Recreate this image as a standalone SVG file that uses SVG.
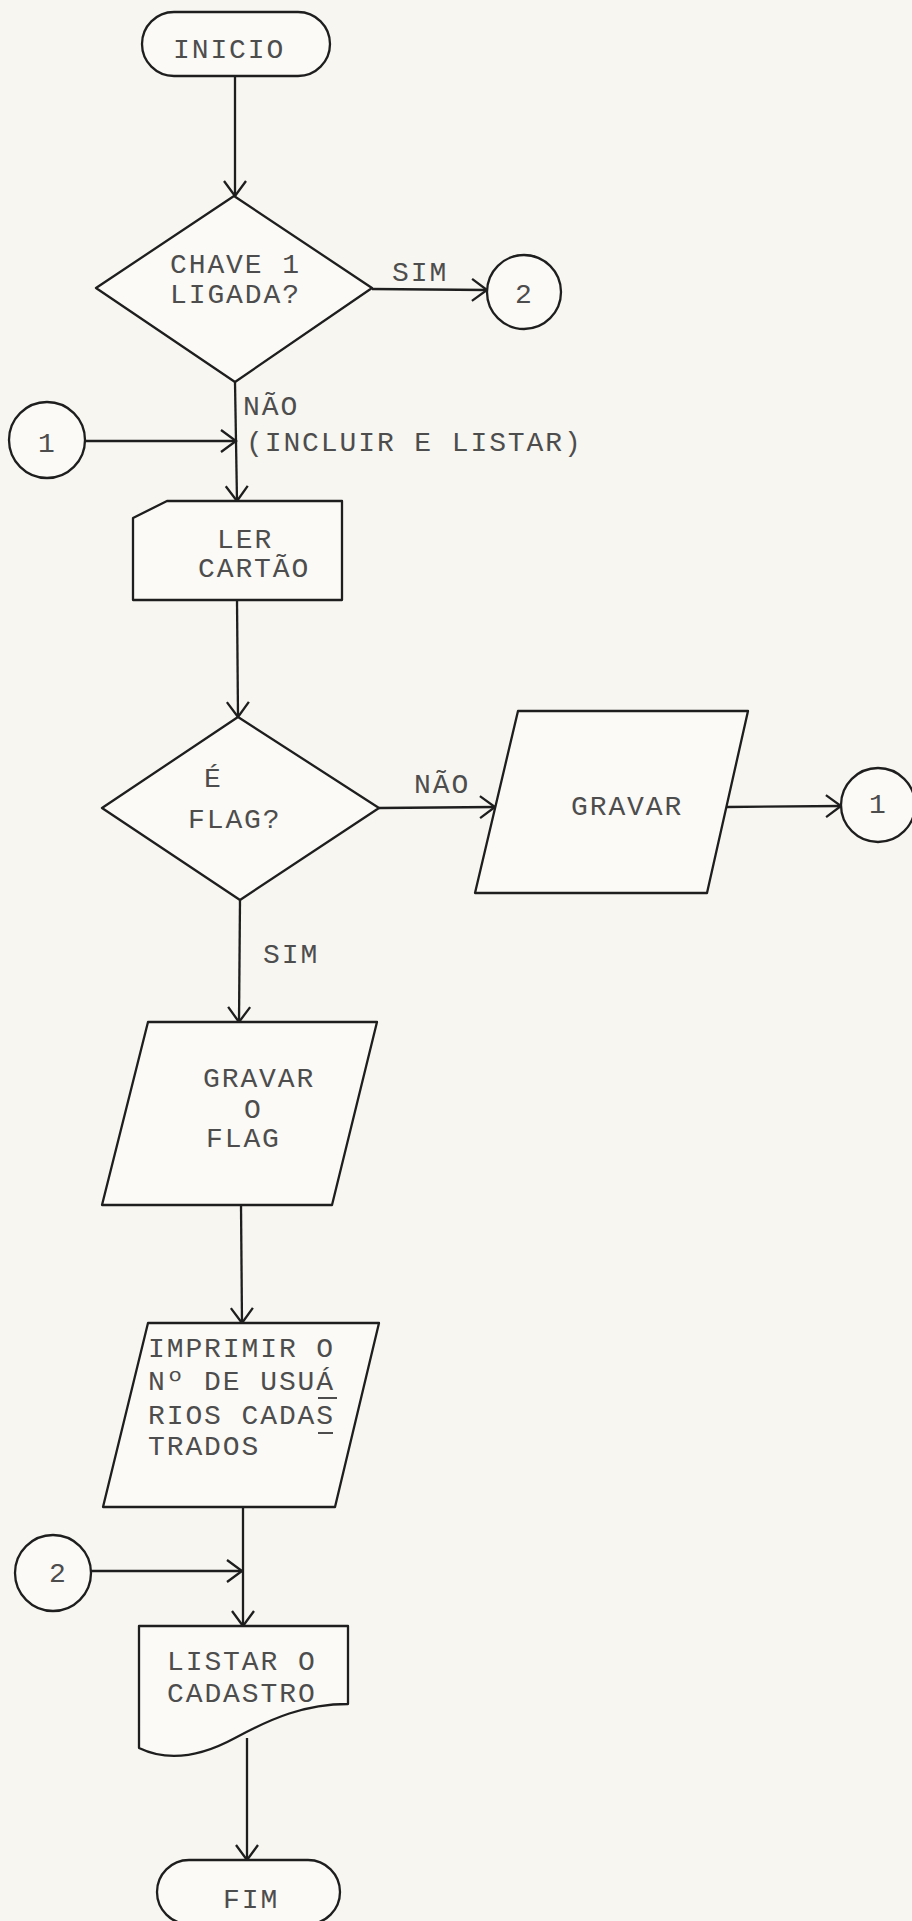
<svg xmlns="http://www.w3.org/2000/svg" width="912" height="1921" viewBox="0 0 912 1921">
<style>
.n{fill:#fbfaf6;stroke:#1e1e1e;stroke-width:2.3;stroke-linejoin:round}
.t{font-family:"Liberation Mono","DejaVu Sans Mono",monospace;font-size:28px;letter-spacing:1.9px;fill:#4d4d4d}
.c{stroke:#1e1e1e;stroke-width:2.3;fill:none}
</style>
<defs>
<marker id="arr" markerUnits="userSpaceOnUse" markerWidth="40" markerHeight="40" refX="0" refY="0" viewBox="-20 -20 40 40" orient="auto" overflow="visible">
<path d="M-15,-11 L0,0 L-15,11" fill="none" stroke="#1e1e1e" stroke-width="2.3"/>
</marker>
</defs>
<rect x="0" y="0" width="912" height="1921" fill="#f7f6f1"/>
<g id="connectors">
<line class="c" x1="235" y1="76" x2="235" y2="196" marker-end="url(#arr)"/>
<line class="c" x1="372" y1="289" x2="487" y2="290" marker-end="url(#arr)"/>
<line class="c" x1="235" y1="382" x2="237" y2="501" marker-end="url(#arr)"/>
<line class="c" x1="85" y1="441" x2="236" y2="441" marker-end="url(#arr)"/>
<line class="c" x1="237" y1="600" x2="238" y2="717" marker-end="url(#arr)"/>
<line class="c" x1="379" y1="808" x2="495" y2="807" marker-end="url(#arr)"/>
<line class="c" x1="727" y1="807" x2="841" y2="806" marker-end="url(#arr)"/>
<line class="c" x1="240" y1="900" x2="239" y2="1022" marker-end="url(#arr)"/>
<line class="c" x1="241" y1="1205" x2="242" y2="1323" marker-end="url(#arr)"/>
<line class="c" x1="243" y1="1507" x2="243" y2="1626" marker-end="url(#arr)"/>
<line class="c" x1="91" y1="1571" x2="242" y2="1571" marker-end="url(#arr)"/>
<line class="c" x1="247" y1="1738" x2="247" y2="1860" marker-end="url(#arr)"/>
</g>
<g id="inicio">
<rect class="n" x="142" y="12" width="188" height="64" rx="32"/>
<text class="t" x="173" y="58">INICIO</text>
</g>
<g id="chave1">
<polygon class="n" points="234,196 372,288 235,382 96,288"/>
<text class="t" x="170" y="273">CHAVE 1</text>
<text class="t" x="170" y="303">LIGADA?</text>
</g>
<text class="t" x="392" y="281">SIM</text>
<g id="con2a">
<circle class="n" cx="524" cy="292" r="37"/>
<text class="t" x="515" y="303">2</text>
</g>
<text class="t" x="243" y="415">NÃO</text>
<text class="t" x="246" y="451">(INCLUIR E LISTAR)</text>
<g id="con1a">
<circle class="n" cx="47" cy="440" r="38"/>
<text class="t" x="38" y="452">1</text>
</g>
<g id="lercartao">
<path class="n" d="M167,501 L342,501 L342,600 L133,600 L133,518 Z"/>
<text class="t" x="217" y="548">LER</text>
<text class="t" x="198" y="577">CARTÃO</text>
</g>
<g id="flag">
<polygon class="n" points="238,717 379,808 240,900 102,808"/>
<text class="t" x="204" y="787">É</text>
<text class="t" x="188" y="828">FLAG?</text>
</g>
<text class="t" x="414" y="793">NÃO</text>
<g id="gravar">
<polygon class="n" points="518,711 748,711 707,893 475,893"/>
<text class="t" x="571" y="815">GRAVAR</text>
</g>
<g id="con1b">
<circle class="n" cx="878" cy="805" r="37"/>
<text class="t" x="869" y="813">1</text>
</g>
<text class="t" x="263" y="963">SIM</text>
<g id="gravarflag">
<polygon class="n" points="148,1022 377,1022 332,1205 102,1205"/>
<text class="t" x="203" y="1087">GRAVAR</text>
<text class="t" x="244" y="1118">O</text>
<text class="t" x="206" y="1147">FLAG</text>
</g>
<g id="imprimir">
<polygon class="n" points="148,1323 379,1323 335,1507 103,1507"/>
<text class="t" x="148" y="1357">IMPRIMIR O</text>
<text class="t" x="148" y="1390">Nº DE USUÁ</text>
<text class="t" x="148" y="1424">RIOS CADAS</text>
<text class="t" x="148" y="1455">TRADOS</text>
<line x1="318" y1="1398" x2="337" y2="1398" stroke="#4d4d4d" stroke-width="2"/>
<line x1="318" y1="1433" x2="333" y2="1433" stroke="#4d4d4d" stroke-width="2"/>
</g>
<g id="con2b">
<circle class="n" cx="53" cy="1573" r="38"/>
<text class="t" x="49" y="1582">2</text>
</g>
<g id="listar">
<path class="n" d="M139,1626 L348,1626 L348,1704 C305,1704 272,1718 235,1738 C200,1757 168,1762 139,1748 Z"/>
<text class="t" x="167" y="1670">LISTAR O</text>
<text class="t" x="167" y="1702">CADASTRO</text>
</g>
<g id="fim">
<rect class="n" x="157" y="1860" width="183" height="64" rx="32"/>
<text class="t" x="223" y="1908">FIM</text>
</g>
</svg>
